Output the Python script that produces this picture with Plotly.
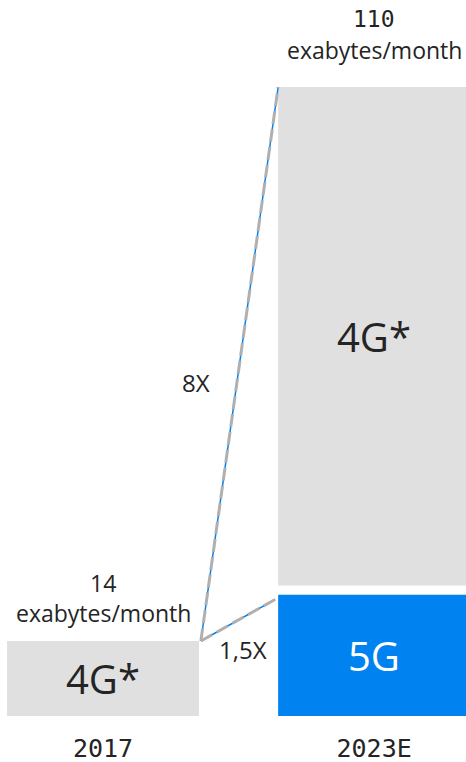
import plotly.graph_objects as go

# ---- data ----
years = ["2017", "2023E"]
totals = [14, 110]            # exabytes/month
five_g = [0, 22]              # 5G share (2023E)
four_g_label = "4G*"
five_g_label = "5G"
growth_total = "8X"
growth_4g = "1,5X"
unit = "exabytes/month"

# ---- styles ----
GREY = "#e0e0e0"
BLUE = "#0082f0"
TXT = "#242424"
MONO = "DejaVu Sans Mono"
SANS = "Open Sans"
BAR_W = 0.708
GAP = 1.6

xpos = [0, 1]
four_g_base = [f + (GAP if f > 0 else 0) for f in five_g]
four_g_vals = [t - b for t, b in zip(totals, four_g_base)]

fig = go.Figure()
fig.add_trace(go.Bar(x=xpos, y=five_g, marker_color=BLUE, width=BAR_W,
                     marker_line_width=0, hoverinfo="skip"))
fig.add_trace(go.Bar(x=xpos, y=four_g_vals, base=four_g_base, marker_color=GREY,
                     width=BAR_W, marker_line_width=0, hoverinfo="skip"))

# connector lines
x0 = xpos[0] + BAR_W / 2 + 0.007
x1 = xpos[1] - BAR_W / 2
for yend, xe in [(totals[1], x1), (five_g[1] - 0.8, x1 - 0.011)]:
    fig.add_trace(go.Scatter(x=[x0, xe], y=[totals[0], yend], mode="lines",
                             line=dict(color=BLUE, width=1.5), hoverinfo="skip"))
    fig.add_trace(go.Scatter(x=[x0, xe], y=[totals[0], yend], mode="lines",
                             line=dict(color="#b0b0b0", width=3, dash="13px,5px"),
                             hoverinfo="skip"))

ann = []
def add(x, y, text, size, family, color=TXT, yshift=0):
    ann.append(dict(x=x, y=y, xref="x", yref="y", text=text, showarrow=False,
                    font=dict(size=size, family=family, color=color),
                    xanchor="center", yanchor="middle", yshift=yshift))

# value labels above bars
add(xpos[0], totals[0], str(totals[0]), 23, SANS, yshift=58)
add(xpos[0], totals[0], unit, 23, SANS, yshift=28)
add(xpos[1], totals[1], str(totals[1]), 23, MONO, yshift=68)
add(xpos[1], totals[1], unit, 23, SANS, yshift=37)
# bar inner labels
add(xpos[0], (totals[0] + 1) / 2, four_g_label, 40, SANS)
add(xpos[1], (four_g_base[1] + totals[1]) / 2, four_g_label, 40, SANS)
add(xpos[1], (five_g[1] + 1) / 2, five_g_label, 40, SANS, color="white")
# growth labels
add(0.343, 58.8, growth_total, 24, SANS)
add(0.516, 12.5, growth_4g, 24, SANS)

fig.update_layout(
    width=466, height=762,
    margin=dict(l=0, r=0, t=0, b=46),
    paper_bgcolor="white", plot_bgcolor="white",
    barmode="overlay", showlegend=False, annotations=ann,
    xaxis=dict(range=[-0.380, 1.339], tickvals=xpos, ticktext=years,
               showgrid=False, zeroline=False, showline=False, ticks="",
               ticklabelstandoff=15,
               tickfont=dict(family=MONO, size=25, color=TXT)),
    yaxis=dict(range=[1, 125.08], visible=False, showgrid=False, zeroline=False),
)
fig.write_html(
    "out.html",
    config={"displayModeBar": False, "staticPlot": True},
    post_script="document.body.style.margin='0';"
                "document.body.style.overflow='hidden';"
                "document.documentElement.style.overflow='hidden';",
)
